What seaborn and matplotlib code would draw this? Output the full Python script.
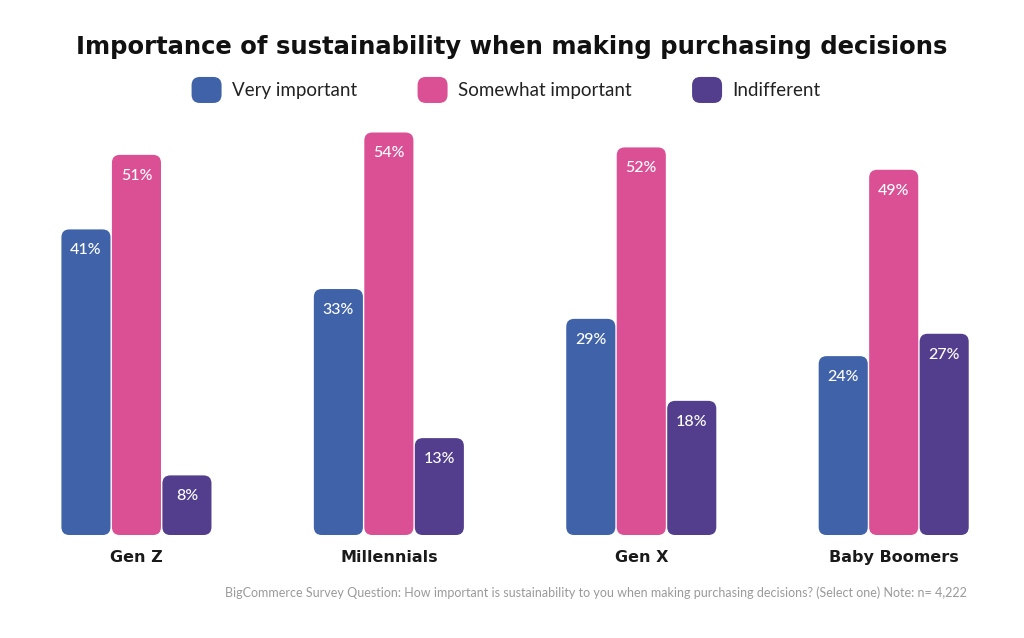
import matplotlib
matplotlib.use("Agg")
import matplotlib.pyplot as plt
import seaborn as sns
import pandas as pd
from matplotlib.patches import FancyBboxPatch
from matplotlib.legend_handler import HandlerPatch

categories = ["Gen Z", "Millennials", "Gen X", "Baby Boomers"]
series = ["Very important", "Somewhat important", "Indifferent"]
very_important = [41, 33, 29, 24]
somewhat_important = [51, 54, 52, 49]
indifferent = [8, 13, 18, 27]
colors = ["#3F62A8", "#DB4F94", "#533E8E"]

title = "Importance of sustainability when making purchasing decisions"
footnote = ("BigCommerce Survey Question: How important is sustainability to you when "
            "making purchasing decisions? (Select one) Note: n= 4,222")

rows = []
for s, vals in zip(series, [very_important, somewhat_important, indifferent]):
    for c, v in zip(categories, vals):
        rows.append({"Generation": c, "Response": s, "Value": v})
df = pd.DataFrame(rows)

sns.set_theme(style="white")
plt.rcParams["font.family"] = ["Lato", "DejaVu Sans"]

fig = plt.figure(figsize=(10.24, 6.38), dpi=100)
ax = fig.add_axes([0.01, 0.1614, 0.986, 0.6426])

sns.barplot(data=df, x="Generation", y="Value", hue="Response",
            order=categories, hue_order=series, palette=colors,
            width=0.6, ax=ax, saturation=1, errorbar=None)

ax.set_xlim(-0.5, 3.5)
ax.set_ylim(0, 55)
fig.canvas.draw()

# pixel scale for rounded corners
bbox = ax.get_window_extent()
x_per_px = 4.0 / bbox.width
y_per_px = 55.0 / bbox.height
aspect = y_per_px / x_per_px
r = 8 * x_per_px

for ci, cont in enumerate(ax.containers):
    for bar in cont:
        x, y = bar.get_x(), bar.get_y()
        w, h = bar.get_width(), bar.get_height()
        fc = bar.get_facecolor()
        bar.set_visible(False)
        gap = 0.7 * x_per_px
        p = FancyBboxPatch((x + gap, y), w - 2 * gap, h,
                           boxstyle=f"round,pad=0,rounding_size={r}",
                           mutation_aspect=aspect, facecolor=fc,
                           edgecolor="none", linewidth=0)
        ax.add_patch(p)
    ax.bar_label(cont, labels=[f"{int(v)}%" for v in cont.datavalues],
                 padding=-20, color="white", fontsize=11.5,
                 fontweight="medium")

if ax.get_legend() is not None:
    ax.get_legend().remove()

ax.set_xlabel("")
ax.set_ylabel("")
ax.set_yticks([])
ax.tick_params(axis="x", length=0, pad=11)
for lbl in ax.get_xticklabels():
    lbl.set_fontsize(11.5)
    lbl.set_fontweight("bold")
    lbl.set_family(["DejaVu Sans"])
    lbl.set_color("#1a1a1a")
sns.despine(ax=ax, left=True, bottom=True)


class RoundHandler(HandlerPatch):
    def create_artists(self, legend, orig_handle, xdescent, ydescent,
                       width, height, fontsize, trans):
        p = FancyBboxPatch((-xdescent, -ydescent), width, height,
                           boxstyle="round,pad=0,rounding_size=6",
                           facecolor=orig_handle.get_facecolor(),
                           edgecolor="none", transform=trans)
        return [p]


handles = [FancyBboxPatch((0, 0), 1, 1, facecolor=c) for c in colors]
fig.legend(handles, series, loc="center", bbox_to_anchor=(0.494, 0.859),
           ncol=3, frameon=False, fontsize=13.5,
           handler_map={FancyBboxPatch: RoundHandler()},
           handlelength=1.6, handleheight=1.76, handletextpad=0.53,
           columnspacing=3.25, labelcolor="#222222")

fig.text(0.5, 1 - 47 / 638, title, ha="center", va="center",
         fontsize=17.5, fontweight="bold", color="#111111",
         family=["DejaVu Sans"])

fig.text(967 / 1024, 1 - 593 / 638, footnote, ha="right", va="center",
         fontsize=9.0, color="#9a9a9a")

fig.savefig("out.png", dpi=100)
